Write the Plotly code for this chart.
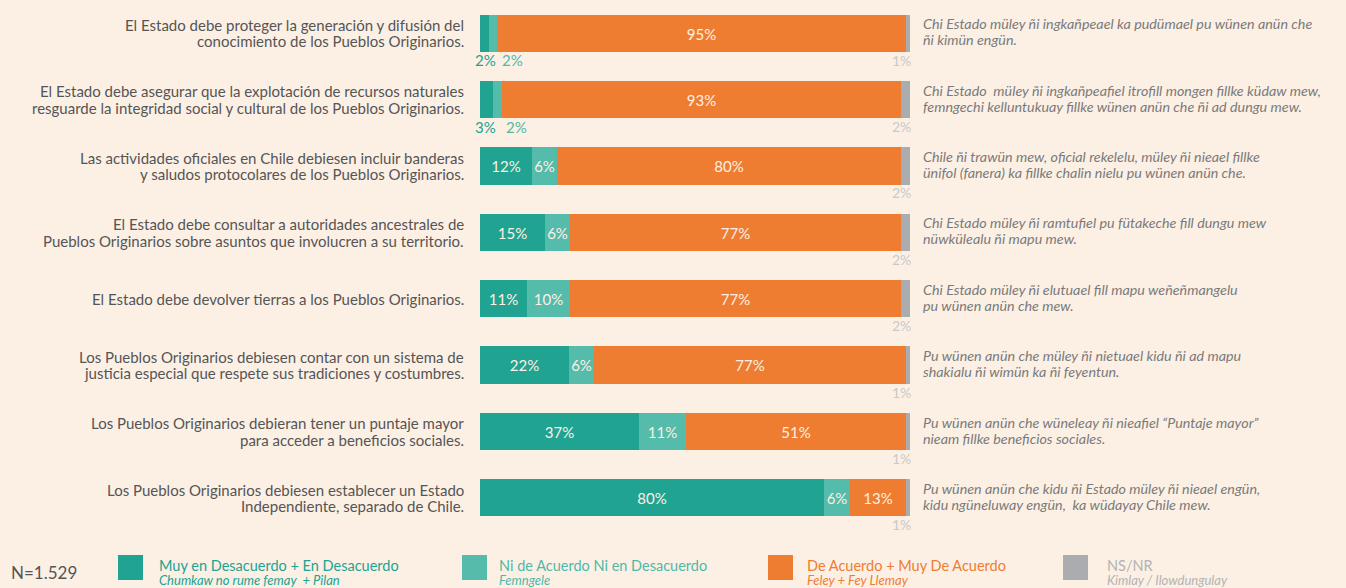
import plotly.graph_objects as go

# --- data ------------------------------------------------------------------
questions_es = [
    "El Estado debe proteger la generación y difusión del<br>conocimiento de los Pueblos Originarios.",
    "El Estado debe asegurar que la explotación de recursos naturales<br>resguarde la integridad social y cultural de los Pueblos Originarios.",
    "Las actividades oficiales en Chile debiesen incluir banderas<br>y saludos protocolares de los Pueblos Originarios.",
    "El Estado debe consultar a autoridades ancestrales de<br>Pueblos Originarios sobre asuntos que involucren a su territorio.",
    "El Estado debe devolver tierras a los Pueblos Originarios.",
    "Los Pueblos Originarios debiesen contar con un sistema de<br>justicia especial que respete sus tradiciones y costumbres.",
    "Los Pueblos Originarios debieran tener un puntaje mayor<br>para acceder a beneficios sociales.",
    "Los Pueblos Originarios debiesen establecer un Estado<br>Independiente, separado de Chile.",
]
questions_arn = [
    "Chi Estado müley ñi ingkañpeael ka pudümael pu wünen anün che<br>ñi kimün engün.",
    "Chi Estado  müley ñi ingkañpeafiel itrofill mongen fillke küdaw mew,<br>femngechi kelluntukuay fillke wünen anün che ñi ad dungu mew.",
    "Chile ñi trawün mew, oficial rekelelu, müley ñi nieael fillke<br>ünifol (fanera) ka fillke chalin nielu pu wünen anün che.",
    "Chi Estado müley ñi ramtufiel pu fütakeche fill dungu mew<br>nüwkülealu ñi mapu mew.",
    "Chi Estado müley ñi elutuael fill mapu weñeñmangelu<br>pu wünen anün che mew.",
    "Pu wünen anün che müley ñi nietuael kidu ñi ad mapu<br>shakialu ñi wimün ka ñi feyentun.",
    "Pu wünen anün che wüneleay ñi nieafiel “Puntaje mayor”<br>nieam fillke beneficios sociales.",
    "Pu wünen anün che kidu ñi Estado müley ñi nieael engün,<br>kidu ngüneluway engün,  ka wüdayay Chile mew.",
]
desacuerdo = [2, 3, 12, 15, 11, 22, 37, 80]
ni_ni = [2, 2, 6, 6, 10, 6, 11, 6]
acuerdo = [95, 93, 80, 77, 77, 77, 51, 13]
ns_nr = [1, 2, 2, 2, 2, 1, 1, 1]

series_names = ["Muy en Desacuerdo + En Desacuerdo", "Ni de Acuerdo Ni en Desacuerdo",
                "De Acuerdo + Muy De Acuerdo", "NS/NR"]
series_sub = ["Chumkaw no rume femay  + Pilan", "Femngele",
              "Feley + Fey Llemay", "Kimlay / Ilowdungulay"]
colors = ["#21a392", "#55bbab", "#ee7d31", "#abacb0"]
label_colors = ["#21a392", "#4fb8a8", "#ee7d31", "#b3b3b3"]

BG = "#fcf0e5"
FONT = "Lato, 'Open Sans', sans-serif"
W, H = 1346, 588
L, R, T, B = 480, 436, 0, 57
PW, PH = W - L - R, H - T - B


def px_x(px):
    return (px - L) / PW


def px_y(py):
    return 1 - (py - T) / PH


def text_lines(txt, x, y, anchor, size, color, gap, italic=False):
    # one annotation per line so the line spacing can be kept tight
    parts = txt.split("<br>")
    out = []
    for j, p in enumerate(parts):
        shift = ((len(parts) - 1) / 2 - j) * gap
        out.append(dict(x=x, y=y, xref="paper", yref="y", xanchor=anchor,
                        yanchor="middle", borderpad=0,
                        text=f"<i>{p}</i>" if italic else p, showarrow=False,
                        yshift=shift, font=dict(family=FONT, size=size, color=color)))
    return out


rows = list(range(len(questions_es)))
series = [desacuerdo, ni_ni, acuerdo, ns_nr]
totals = [sum(v) for v in zip(*series)]

fig = go.Figure()
for k, vals in enumerate(series):
    widths = [v / t * 100 for v, t in zip(vals, totals)]
    texts = [f"{v}%" if (v >= 5 and k < 3) else "" for v in vals]
    fig.add_trace(go.Bar(
        y=rows, x=widths, orientation="h", name=series_names[k],
        marker=dict(color=colors[k], line=dict(width=0)),
        width=0.56, text=texts, texttemplate="%{text}",
        textposition="inside", insidetextanchor="middle",
        textangle=0, constraintext="none",
        textfont=dict(family=FONT, size=15, color="#fdf0e4"),
        hoverinfo="skip", showlegend=False,
    ))

ann = []
for i in rows:
    # question texts, spanish left and mapudungun right
    ann += text_lines(questions_es[i], px_x(465), i, "right", 15, "#555555", 16.5)
    ann += text_lines(questions_arn[i], px_x(922), i - 0.02, "left", 14.3, "#7a7a7a", 16,
                      italic=True)
    # small values below the bar
    start = 0
    for k, vals in enumerate(series[:2]):
        v = vals[i]
        if v < 5:
            ann.append(dict(x=start, y=i, xref="x", yref="y", xanchor="left",
                            text=f"{v}%", showarrow=False, yshift=-27,
                            xshift=-7 if k == 0 else 11,
                            font=dict(family=FONT, size=15, color=label_colors[k])))
        start += v / totals[i] * 100
    ann.append(dict(x=100, y=i, xref="x", yref="y", xanchor="right",
                    text=f"{ns_nr[i]}%", showarrow=False, yshift=-27, xshift=3,
                    font=dict(family=FONT, size=14, color="#c9c9c9")))

# custom legend along the bottom
ann.append(dict(x=px_x(9), y=px_y(572), xref="paper", yref="paper", xanchor="left",
                yanchor="middle", text="N=1.529", showarrow=False,
                font=dict(family=FONT, size=17, color="#555555")))
shapes = []
leg_sq = [118, 462, 768, 1063]
leg_tx = [158, 498, 806, 1106]
for k in range(4):
    shapes.append(dict(type="rect", xref="paper", yref="paper",
                       x0=px_x(leg_sq[k]), x1=px_x(leg_sq[k] + 25),
                       y0=px_y(580), y1=px_y(555),
                       fillcolor=colors[k], line=dict(width=0)))
    ann.append(dict(x=px_x(leg_tx[k]), y=px_y(565), xref="paper", yref="paper",
                    xanchor="left", yanchor="middle", borderpad=0,
                    text=series_names[k], showarrow=False,
                    font=dict(family=FONT, size=14.5, color=label_colors[k])))
    ann.append(dict(x=px_x(leg_tx[k]), y=px_y(580), xref="paper", yref="paper",
                    xanchor="left", yanchor="middle", borderpad=0,
                    text=f"<i>{series_sub[k]}</i>", showarrow=False,
                    font=dict(family=FONT, size=13, color=label_colors[k])))

fig.update_layout(
    barmode="stack", width=W, height=H,
    margin=dict(l=L, r=R, t=T, b=B),
    paper_bgcolor=BG, plot_bgcolor=BG,
    xaxis=dict(range=[0, 100], visible=False, fixedrange=True),
    yaxis=dict(range=[len(rows) - 0.5, -0.5], visible=False, fixedrange=True),
    annotations=ann, shapes=shapes, bargap=0,
    font=dict(family=FONT),
)

fig.write_html("out.html", config={"displayModeBar": False},
               post_script="document.body.style.margin='0';"
               "document.body.style.overflow='hidden';")
